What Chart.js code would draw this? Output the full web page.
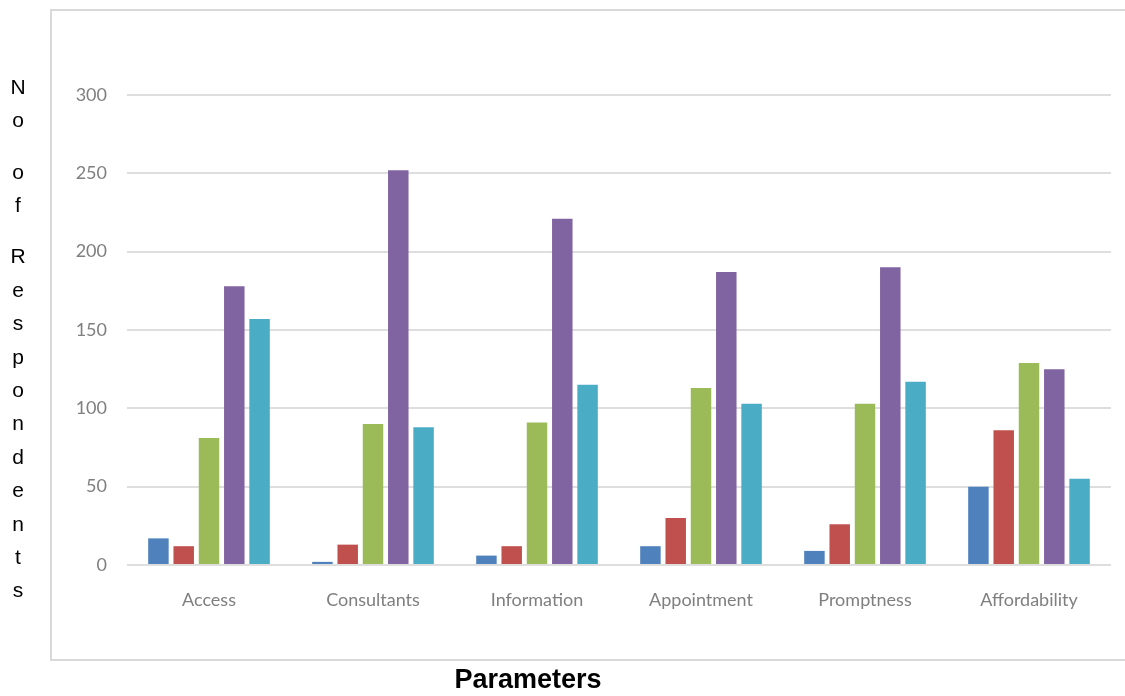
<!DOCTYPE html>
<html>
<head>
<meta charset="utf-8">
<script src="https://cdn.jsdelivr.net/npm/chart.js@4"></script>
<style>
  html, body { margin: 0; padding: 0; background: #ffffff; }
  #wrap { width: 1125px; height: 696px; position: relative; }
</style>
</head>
<body>
<div id="wrap"><canvas id="c" width="1125" height="696"></canvas></div>
<script>
// Categories along the x axis
const categories = ['Access', 'Consultants', 'Information', 'Appointment', 'Promptness', 'Affordability'];

// Respondent counts for each of the five rating groups
const series1 = [17, 2, 6, 12, 9, 50];
const series2 = [12, 13, 12, 30, 26, 86];
const series3 = [81, 90, 91, 113, 103, 129];
const series4 = [178, 252, 221, 187, 190, 125];
const series5 = [157, 88, 115, 103, 117, 55];

// Y axis tick values
const yTicks = [0, 50, 100, 150, 200, 250, 300];

const yTitle = 'No of Respondents';
const xTitle = 'Parameters';

const colors = ['#4F81BD', '#C0504D', '#9BBB59', '#8064A2', '#4BACC6'];
const tickFont = { family: 'Lato, "Open Sans", sans-serif', size: 18 };
const tickColor = '#7f7f7f';

// Outer frame, vertical stacked y-axis title and the x-axis title
const decorations = {
  id: 'decorations',
  beforeDraw(chart) {
    const ctx = chart.ctx;
    ctx.save();
    ctx.fillStyle = '#ffffff';
    ctx.fillRect(0, 0, chart.width, chart.height);
    ctx.strokeStyle = '#d9d9d9';
    ctx.lineWidth = 2;
    ctx.beginPath();
    ctx.moveTo(chart.width, 10);
    ctx.lineTo(51, 10);
    ctx.lineTo(51, 660);
    ctx.lineTo(chart.width, 660);
    ctx.stroke();
    ctx.restore();
  },
  afterDraw(chart) {
    const ctx = chart.ctx;
    ctx.save();
    ctx.fillStyle = '#000000';
    ctx.font = '21px "Liberation Sans", Arial, sans-serif';
    ctx.textAlign = 'center';
    ctx.textBaseline = 'middle';
    let y = 88;
    for (const ch of yTitle) {
      if (ch === ' ') { y += 18; continue; }
      ctx.fillText(ch, 18, y);
      y += 33.4;
    }
    ctx.font = 'bold 27px "Liberation Sans", Arial, sans-serif';
    ctx.fillText(xTitle, 528, 681);
    ctx.restore();
  }
};

const dataSets = [series1, series2, series3, series4, series5].map((d, i) => ({
  label: 'Series' + (i + 1),
  data: d,
  backgroundColor: colors[i],
  borderWidth: 0,
  barPercentage: 0.81,
  categoryPercentage: 0.771
}));

new Chart(document.getElementById('c'), {
  type: 'bar',
  data: { labels: categories, datasets: dataSets },
  options: {
    responsive: false,
    devicePixelRatio: 1,
    animation: false,
    layout: { padding: { top: 95, right: 14, left: 0, bottom: 0 } },
    plugins: { legend: { display: false }, tooltip: { enabled: false } },
    scales: {
      x: {
        grid: { display: false, drawTicks: false },
        border: { display: false },
        ticks: { font: tickFont, color: tickColor, padding: 24, maxRotation: 0 },
        afterFit(scale) { scale.height = 131; }
      },
      y: {
        min: yTicks[0],
        max: yTicks[yTicks.length - 1],
        afterBuildTicks(scale) { scale.ticks = yTicks.map(v => ({ value: v })); },
        grid: { color: '#dedede', lineWidth: 2, drawTicks: false },
        border: { display: false },
        ticks: { font: tickFont, color: tickColor, padding: 20 },
        afterFit(scale) { scale.width = 127; }
      }
    }
  },
  plugins: [decorations]
});
</script>
</body>
</html>
